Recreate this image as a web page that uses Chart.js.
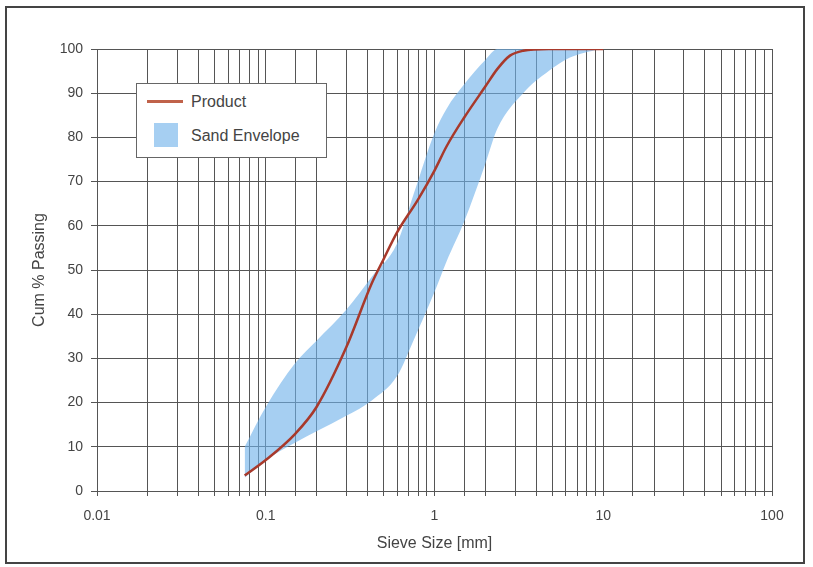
<!DOCTYPE html>
<html>
<head>
<meta charset="utf-8">
<script src="https://cdn.jsdelivr.net/npm/chart.js@4"></script>
<style>
  body { margin: 0; background: #fff; font-family: "Liberation Sans", Arial, sans-serif; }
  #wrap { position: relative; width: 813px; height: 567px; }
  #chart { position: absolute; left: 0; top: 0; }
  #frame { position: absolute; left: 5px; top: 6px; width: 796px; height: 554px; border: 2px solid #444; pointer-events: none; }
  #legend { position: absolute; left: 136px; top: 83px; width: 189px; height: 73px; border: 1px solid #666; background: #fff; color: #444; font-size: 16px; }
  .item { position: absolute; left: 54px; line-height: 20px; }
  .swatch { position: absolute; }
</style>
</head>
<body>
<div id="wrap">
  <canvas id="chart" width="813" height="567"></canvas>
  <div id="frame"></div>
  <div id="legend"></div>
</div>
<script>
// sieve sizes in mm, % passing
const productSizes = [0.075, 0.1, 0.15, 0.2, 0.3, 0.425, 0.5, 0.6, 0.8, 1.0, 1.18, 1.5, 2.0, 2.36, 2.8, 3.35, 4.75, 10];
const productPassing = [3.5, 7, 13, 19, 32.5, 47, 52.5, 58.5, 66, 72.5, 78, 84.5, 91.5, 95.5, 98.5, 99.6, 100, 100];

const envelopeSizes = [0.075, 0.1, 0.15, 0.2, 0.3, 0.425, 0.6, 0.75, 1.0, 1.18, 1.5, 2.0, 2.36, 3.35, 4.75, 6.3, 9.5];
const envelopeUpper = [10, 19, 29, 34, 41, 48.5, 56, 67, 81, 86.5, 92, 97.5, 100, 100, 100, 100, 100];
const envelopeLower = [3, 7, 11, 13.5, 17, 20.5, 26, 34, 45, 52, 61, 74, 82, 90, 95, 98, 100];

const xTickLabels = [0.01, 0.1, 1, 10, 100];
const seriesNames = ['Product', 'Sand Envelope'];

const productColor = '#a8392b';
const envelopeColor = 'rgba(112, 177, 234, 0.62)';
const gridColor = '#555';

const toPoints = (xs, ys) => xs.map((x, i) => ({ x: x, y: ys[i] }));

new Chart(document.getElementById('chart'), {
    type: 'line',
    data: {
        datasets: [
            {
                label: seriesNames[1] + ' lower',
                data: toPoints(envelopeSizes, envelopeLower),
                borderWidth: 0,
                pointRadius: 0,
                cubicInterpolationMode: 'monotone',
                fill: false,
                order: 2
            },
            {
                label: seriesNames[1],
                data: toPoints(envelopeSizes, envelopeUpper),
                borderWidth: 0,
                pointRadius: 0,
                backgroundColor: envelopeColor,
                cubicInterpolationMode: 'monotone',
                fill: '-1',
                order: 1
            },
            {
                label: seriesNames[0],
                data: toPoints(productSizes, productPassing),
                borderColor: productColor,
                borderWidth: 2.5,
                pointRadius: 0,
                cubicInterpolationMode: 'monotone',
                fill: false,
                order: 0 // drawn last, on top of the envelope
            }
        ]
    },
    options: {
        responsive: false,
        animation: false,
        layout: { padding: { left: 26, right: 41, top: 49, bottom: 10 } },
        plugins: { legend: { display: false }, tooltip: { enabled: false } },
        scales: {
            x: {
                type: 'logarithmic',
                min: 0.01,
                max: 100,
                grid: { color: gridColor, lineWidth: 1, tickLength: 5 },
                border: { color: gridColor },
                ticks: {
                    autoSkip: false,
                    maxRotation: 0,
                    padding: 12,
                    color: '#444',
                    font: { family: 'Liberation Sans', size: 14 },
                    callback: (value) => {
                        const hit = xTickLabels.find(t => Math.abs(t - value) < t * 1e-6);
                        return hit !== undefined ? String(hit) : '';
                    }
                },
                title: {
                    display: true,
                    text: 'Sieve Size [mm]',
                    color: '#444',
                    font: { family: 'Liberation Sans', size: 16 }
                },
                afterFit: (scale) => { scale.height = 66; }
            },
            y: {
                min: 0,
                max: 100,
                grid: { color: gridColor, lineWidth: 1, tickLength: 6 },
                border: { color: gridColor },
                ticks: {
                    stepSize: 10,
                    padding: 8,
                    color: '#444',
                    font: { family: 'Liberation Sans', size: 14 }
                },
                title: {
                    display: true,
                    text: 'Cum % Passing',
                    color: '#444',
                    font: { family: 'Liberation Sans', size: 16 }
                },
                afterFit: (scale) => { scale.width = 71; }
            }
        }
    }
});

// legend inside the plot, top-left
const legend = document.getElementById('legend');
legend.innerHTML =
    '<div class="swatch" style="left:10px;top:16px;width:36px;height:3px;background:#c0624a"></div>' +
    '<div class="item" style="top:8px">' + seriesNames[0] + '</div>' +
    '<div class="swatch" style="left:17px;top:39px;width:24px;height:24px;background:' + envelopeColor + '"></div>' +
    '<div class="item" style="top:42px">' + seriesNames[1] + '</div>';
</script>
</body>
</html>
